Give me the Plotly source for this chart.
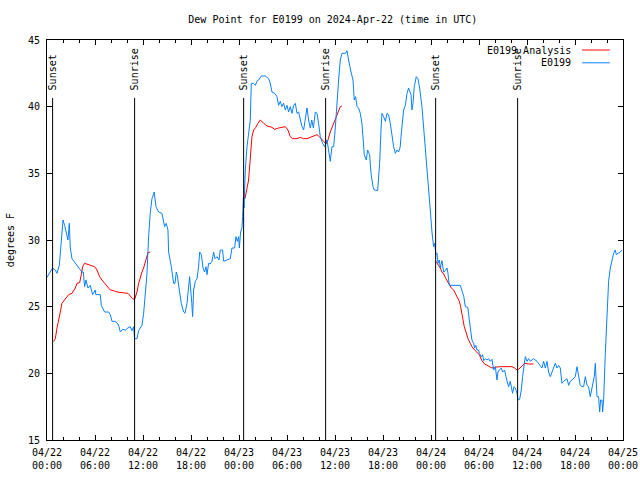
import pandas as pd
import plotly.graph_objects as go

# ---------------- data ----------------
start = "2024-04-22 00:00"

obs_hours = [0, 0.7, 1.04, 1.25, 1.54, 1.66, 1.87, 2.0, 2.2, 2.41, 2.62, 2.79, 2.91, 3.12, 3.54, 3.95,
             4.37, 4.54, 4.7, 4.87, 5.12, 5.41, 5.7, 6.04, 6.1, 6.66, 6.79, 7.2, 7.7, 7.91, 8.12, 8.5,
             8.87, 9.0, 9.16, 9.45, 9.8, 10.1, 10.4, 10.62, 10.83, 10.95, 11.25, 11.45, 11.87, 12.08,
             12.3, 12.5, 12.7, 12.9, 13.12, 13.4, 13.62, 13.95, 14.37, 14.7, 14.9, 15.12, 15.2, 15.54,
             15.83, 16.0, 16.16, 16.3, 16.54, 16.79, 17.08, 17.25, 17.5, 17.7, 17.83, 18.1, 18.2, 18.33,
             18.54, 18.75, 18.95, 19.08, 19.3, 19.5, 19.7, 19.87, 20.0, 20.2, 20.4, 20.62, 20.83, 21.0,
             21.25, 21.5, 21.66, 21.95, 22.08, 22.5, 22.91, 23.12, 23.45, 23.62, 23.79, 23.95, 24.04,
             24.2, 24.37, 24.45, 24.55, 24.62, 24.79, 25.0, 25.2, 25.41, 25.54, 25.8, 26.04, 26.25,
             26.45, 26.79, 27.29, 27.7, 27.91, 28.12, 28.45, 28.75, 28.95, 29.16, 29.37, 29.58, 29.79,
             30.0, 30.2, 30.4, 30.62, 30.83, 31.04, 31.25, 31.45, 31.66, 31.87, 32.08, 32.3, 32.5, 32.7,
             32.91, 33.1, 33.3, 33.54, 33.75, 33.95, 34.16, 34.45, 34.7, 35.0, 35.2, 35.41, 35.62, 35.83,
             36.04, 36.25, 36.45, 36.66, 36.87, 37.3, 37.5, 37.7, 37.91, 38.0, 38.25, 38.41, 38.58,
             38.75, 38.95, 39.16, 39.37, 39.5, 39.66, 39.91, 40.08, 40.33, 40.5, 40.75, 40.91, 41.33,
             41.45, 41.58, 41.75, 41.87, 42.08, 42.3, 42.5, 42.7, 42.91, 43.12, 43.33, 43.54, 43.75,
             43.95, 44.16, 44.25, 44.37, 44.58, 44.79, 45.0, 45.2, 45.41, 45.5, 45.62, 45.75, 45.91,
             46.16, 46.37, 46.58, 46.87, 47.16, 47.41, 47.7, 47.91, 48.12, 48.33, 48.45, 48.62, 48.75,
             48.87, 49.04, 49.16, 49.37, 49.58, 49.79, 50.0, 50.1, 50.29, 51.66, 51.87, 52.1, 52.29,
             52.6, 52.79, 52.95, 53.12, 53.33, 53.45, 53.6, 53.75, 53.95, 54.04, 54.29, 54.45, 54.58,
             54.79, 55.0, 55.2, 55.41, 55.62, 55.83, 56.04, 56.25, 56.37, 56.54, 56.79, 56.95, 57.2,
             57.37, 57.5, 57.7, 57.91, 58.04, 58.2, 58.37, 58.54, 58.75, 58.87, 59.08, 59.29, 59.45,
             59.7, 59.79, 60.0, 60.2, 60.41, 60.62, 60.83, 61.25, 61.66, 61.87, 62.08, 62.29, 62.5,
             62.7, 62.91, 63.12, 63.33, 63.54, 63.75, 63.95, 64.16, 64.37, 64.58, 64.79, 65.0, 65.2,
             65.41, 65.62, 65.83, 66.04, 66.25, 66.45, 66.66, 66.87, 67.08, 67.29, 67.5, 67.7, 67.91,
             68.12, 68.25, 68.41, 68.54, 68.66, 68.75, 68.95, 69.08, 69.2, 69.37, 69.45, 69.58, 69.79,
             69.91, 70.04, 70.2, 70.41, 70.62, 70.83, 71.04, 71.16, 71.37, 71.66, 71.87]
obs_values = [27.2, 27.9, 27.75, 27.5, 28.1, 28.9, 30.1, 31.5, 31.1, 30.6, 30.0, 31.25, 29.4, 28.6, 28.25, 27.9,
              27.6, 27.6, 26.5, 27.0, 26.4, 26.6, 25.9, 26.25, 25.9, 25.9, 25.1, 24.6, 24.6, 24.4, 23.9, 23.9,
              23.7, 23.5, 23.1, 23.3, 23.25, 23.4, 23.5, 23.2, 23.5, 22.6, 22.6, 23.2, 23.6, 24.5,
              26.0, 27.5, 30.25, 32.0, 33.1, 33.6, 32.5, 32.1, 32.0, 31.0, 31.25, 30.75, 29.1, 28.0,
              26.75, 26.75, 27.6, 27.3, 26.25, 25.25, 24.6, 24.5, 25.25, 26.5, 27.25, 25.25, 24.25, 26.25,
              26.9, 27.1, 28.0, 29.1, 28.9, 27.9, 27.6, 28.0, 27.4, 28.25, 28.2, 28.4, 29.1, 28.6,
              28.75, 28.5, 29.25, 29.25, 28.4, 28.5, 28.6, 29.4, 29.4, 30.25, 29.9, 30.25, 29.4,
              30.6, 30.9, 31.75, 33.2, 32.4, 35.25, 37.0, 37.9, 39.0, 41.75, 41.75, 41.6, 41.9,
              42.0, 42.3, 42.3, 42.1, 41.75, 41.1, 41.0, 40.75, 40.1, 40.4, 40.0, 40.25, 39.75,
              40.1, 39.6, 40.0, 39.5, 40.1, 40.25, 39.5, 39.6, 39.0, 38.5, 38.25, 39.0, 39.9, 39.0,
              38.4, 39.0, 38.4, 39.6, 39.5, 38.75, 37.75, 37.25, 37.0, 37.5, 36.5, 35.9, 37.0, 37.0,
              38.4, 40.5, 42.0, 43.5, 44.0, 44.0, 44.2, 43.5, 42.75, 42.6, 42.0, 40.5, 40.75,
              40.0, 39.9, 39.5, 38.75, 37.5, 36.4, 36.0, 36.75, 36.4, 35.0, 34.0, 33.75, 33.7,
              34.75, 35.75, 38.25, 39.5, 39.25, 38.9, 39.5, 39.4, 38.75, 37.75, 37.0, 36.5, 36.75,
              36.6, 37.0, 37.75, 38.75, 39.75, 40.1, 41.0, 41.4, 41.1, 40.9, 39.75, 40.25, 41.5,
              42.25, 42.1, 41.4, 40.0, 38.0, 36.0, 33.75, 32.25, 30.6, 29.5, 29.75, 28.9, 29.0,
              28.25, 28.5, 27.9, 28.45, 27.6, 27.7, 27.9, 27.6, 26.6, 26.6, 26.1, 25.75, 25.0,
              24.95, 24.0, 23.25, 22.5, 22.25, 21.9, 22.1, 21.75, 21.75, 21.5, 21.25, 21.4, 20.95,
              21.1, 21.0, 21.1, 20.9, 21.05, 20.25, 20.5, 19.5, 20.1, 20.25, 20.4, 20.1, 20.25,
              19.75, 19.5, 19.0, 19.4, 19.0, 18.5, 19.0, 18.9, 18.5, 18.0, 18.05, 18.75, 19.75,
              21.1, 21.25, 20.9, 21.1, 20.9, 21.0, 21.1, 20.9, 20.6, 20.4, 20.9, 20.4, 20.9,
              20.1, 19.75, 20.1, 20.4, 20.75, 20.4, 20.6, 20.4, 19.25, 19.4, 19.5, 19.6, 19.1,
              19.4, 19.5, 19.6, 19.75, 20.5, 19.75, 19.1, 19.0, 19.0, 19.75, 19.1, 19.0, 18.25,
              18.9, 19.25, 19.75, 20.75, 19.25, 18.25, 18.25, 17.1, 18.0, 18.0, 17.1, 18.0, 21.5,
              23.25, 24.9, 26.9, 27.9, 28.5, 29.0, 29.25, 28.9, 29.0, 29.1, 29.25]

# Analysis series (None = gap between analysis runs)
ana_hours = [0.83, 1.04, 1.25, 1.45, 1.66, 1.87, 2.08, 2.37, 2.7, 3.12, 3.54, 3.75, 4.08, 4.29, 4.45,
             4.7, 4.95, 5.41, 5.95, 6.25, 6.58, 6.87, 7.2, 7.5, 7.91, 8.33, 8.75, 9.37, 9.79, 10.12,
             10.41, 10.7, 10.95, 11.25, 11.45, 11.66, 11.87, 12.08, 12.29, 12.62, 12.9,
             18.0,
             24.6, 24.75, 25.2, 25.41, 25.62, 25.83, 26.1, 26.37, 26.66, 27.1, 27.5, 28.12, 28.45,
             28.95, 29.37, 29.79, 30.12, 30.41, 30.7, 31.25, 31.66, 32.08, 32.5, 32.91, 33.33, 33.75,
             34.04, 34.29, 34.58, 34.87, 35.12, 35.41, 35.75, 36.04, 36.25, 36.45, 36.66, 36.87,
             42.0,
             48.62, 48.95, 49.16, 49.37, 49.58, 49.87, 50.2, 50.54, 50.83, 51.1, 51.37, 51.54, 51.7,
             51.87, 52.0, 52.16, 52.37, 52.62, 52.91, 53.12, 53.45, 53.75, 54.04, 54.37, 54.7, 55.0,
             55.29, 55.62, 55.95, 56.25, 56.54, 56.87, 57.2, 57.5, 57.79, 58.12, 58.45, 58.75, 58.95,
             59.16, 59.45, 59.7, 60.2, 60.83]
ana_values = [22.4, 22.6, 23.4, 23.9, 24.6, 25.25, 25.4, 25.6, 25.9, 26.0, 26.4, 26.75, 26.8, 27.4, 28.0,
              28.25, 28.2, 28.1, 28.0, 27.75, 27.25, 27.0, 26.75, 26.5, 26.25, 26.2, 26.1, 26.05, 26.05, 26.0,
              25.8, 25.6, 25.55, 26.1, 26.75, 27.25, 27.6, 27.9, 28.4, 29.05, 29.1,
              None,
              33.1, 33.1, 34.5, 36.0, 37.75, 38.25, 38.45, 38.75, 39.0, 38.75, 38.55, 38.45, 38.3,
              38.4, 38.45, 38.5, 38.25, 37.75, 37.6, 37.6, 37.7, 37.6, 37.6, 37.7, 37.75, 37.9,
              37.75, 37.55, 37.4, 37.2, 37.5, 38.1, 38.6, 39.0, 39.4, 39.75, 40.0, 40.05,
              None,
              28.4, 28.1, 27.9, 27.6, 27.45, 27.1, 26.75, 26.4, 26.25, 25.95, 25.6, 25.4, 25.0,
              24.5, 23.9, 23.5, 23.1, 22.6, 22.25, 22.0, 21.75, 21.55, 21.4, 20.95, 20.7, 20.6,
              20.5, 20.4, 20.45, 20.5, 20.5, 20.5, 20.5, 20.45, 20.45, 20.5, 20.4, 20.25, 20.3,
              20.45, 20.6, 20.75, 20.7, 20.7]

event_hours = [0.7, 10.95, 24.58, 34.83, 48.58, 58.83]
event_labels = ["Sunset", "Sunrise", "Sunset", "Sunrise", "Sunset", "Sunrise"]

tick_hours = [0, 6, 12, 18, 24, 30, 36, 42, 48, 54, 60, 66, 72]
tick_labels = ["04/22<br>00:00", "04/22<br>06:00", "04/22<br>12:00", "04/22<br>18:00",
               "04/23<br>00:00", "04/23<br>06:00", "04/23<br>12:00", "04/23<br>18:00",
               "04/24<br>00:00", "04/24<br>06:00", "04/24<br>12:00", "04/24<br>18:00",
               "04/25<br>00:00"]

series_names = ["E0199 Analysis", "E0199"]
series_colors = ["#ff0000", "#0a80ff"]

# ---------------- build ----------------
t0 = pd.Timestamp(start)
def to_time(hrs):
    return [t0 + pd.Timedelta(hours=h) for h in hrs]

FONT = "DejaVu Sans Mono"
FS = 10
fig = go.Figure()
fig.add_trace(go.Scatter(x=to_time(ana_hours), y=ana_values, mode="lines", name=series_names[0],
                         line=dict(color=series_colors[0], width=1), connectgaps=False, showlegend=False))
fig.add_trace(go.Scatter(x=to_time(obs_hours), y=obs_values, mode="lines", name=series_names[1],
                         line=dict(color=series_colors[1], width=1), showlegend=False))

line_top = 0.855
for h, lab in zip(event_hours, event_labels):
    t = t0 + pd.Timedelta(hours=h)
    fig.add_shape(type="line", xref="x", yref="paper", x0=t, x1=t, y0=0, y1=line_top,
                  line=dict(color="black", width=1))
    fig.add_annotation(x=t, xref="x", yref="paper", y=line_top + 0.013, text=lab, showarrow=False,
                       textangle=-90, xanchor="center", yanchor="bottom",
                       font=dict(family=FONT, size=FS, color="black"))

# manual legend (text right aligned, sample to the right)
leg_y = [0.975, 0.943]
for name, col, yy in zip(series_names, series_colors, leg_y):
    fig.add_annotation(xref="paper", yref="paper", x=0.914, y=yy, text=name, showarrow=False,
                       xanchor="right", yanchor="middle", font=dict(family=FONT, size=FS, color="black"))
    fig.add_shape(type="line", xref="paper", yref="paper", x0=0.929, x1=0.977, y0=yy, y1=yy,
                  line=dict(color=col, width=1))

fig.add_annotation(xref="paper", yref="paper", x=-0.064, y=0.5, text="degrees F", showarrow=False,
                   textangle=-90, xanchor="center", yanchor="middle",
                   font=dict(family=FONT, size=FS, color="black"))

fig.update_layout(
    width=640, height=480,
    margin=dict(l=47, r=17, t=40, b=40, autoexpand=False),
    paper_bgcolor="white", plot_bgcolor="white",
    font=dict(family=FONT, size=FS, color="black"),
    title=dict(text="Dew Point for E0199 on 2024-Apr-22 (time in UTC)", x=0.52, xref="container",
               y=1 - 19 / 480, yref="container", xanchor="center", yanchor="middle",
               font=dict(family=FONT, size=FS, color="black")),
)
fig.update_xaxes(
    automargin=False,
    range=[t0, t0 + pd.Timedelta(hours=72)],
    tickvals=to_time(tick_hours), ticktext=tick_labels,
    ticks="inside", ticklen=5, tickcolor="black", tickwidth=1,
    minor=dict(dtick=2 * 3600 * 1000, ticks="inside", ticklen=3, tickcolor="black", showgrid=False),
    showline=True, linecolor="black", linewidth=1, mirror="ticks",
    showgrid=False, zeroline=False, tickfont=dict(family=FONT, size=FS),
    ticklabelstandoff=3,
)
fig.update_yaxes(
    automargin=False,
    range=[15, 45], dtick=5, tick0=15,
    ticks="inside", ticklen=5, tickcolor="black", tickwidth=1,
    showline=True, linecolor="black", linewidth=1, mirror="ticks",
    showgrid=False, zeroline=False, tickfont=dict(family=FONT, size=FS),
    ticklabelstandoff=4,
)

fig.write_html("out.html", config={"displayModeBar": False},
               post_script="document.body.style.margin='0';document.body.style.overflow='hidden';")
